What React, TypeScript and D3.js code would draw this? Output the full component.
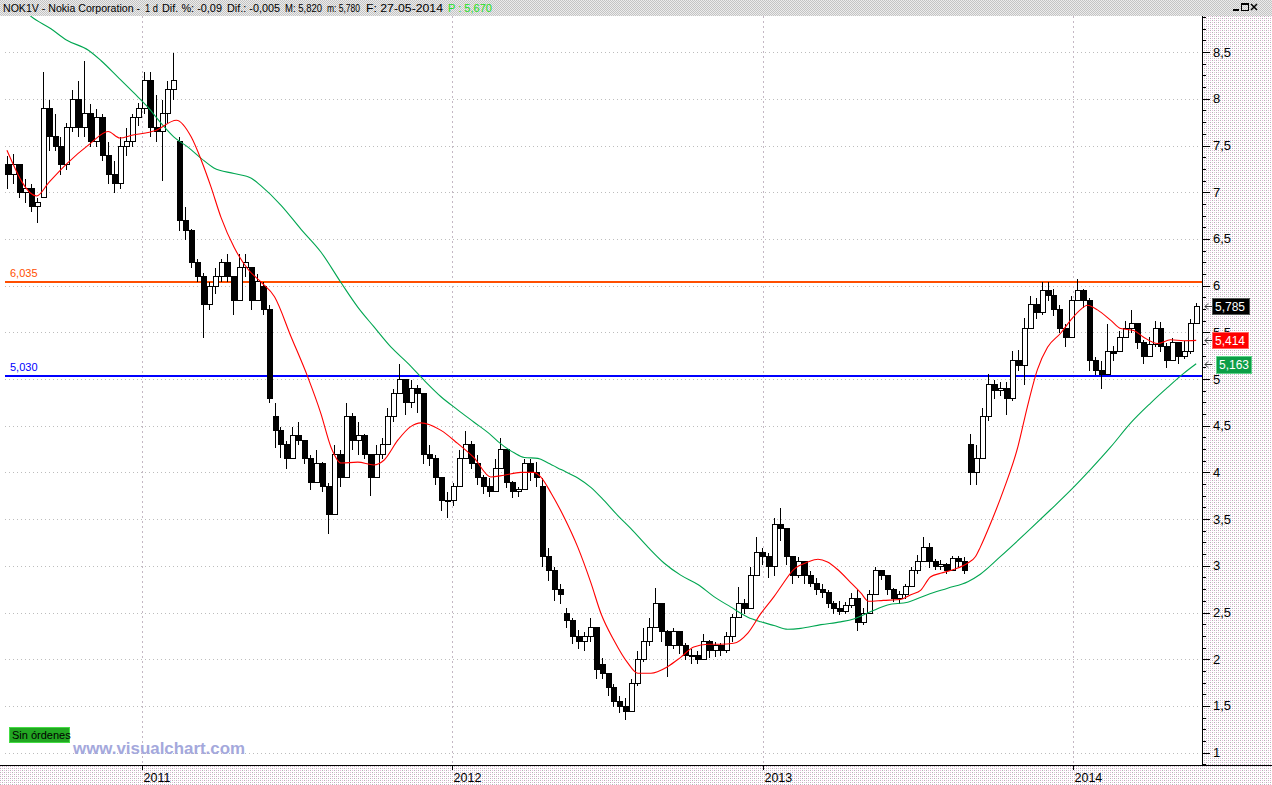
import React from "react";
import * as d3 from "d3";

// ---- data (weekly candles, first week = 2010-07-26) ----
const START = new Date(2010, 6, 26);
const DAY = 86400000;
const weekDate = (w: number) => new Date(START.getTime() + w * 7 * DAY);

const opens = [
  7.30,7.20,7.30,7.00,7.05,6.85,6.95,7.90,7.60,7.50,
  7.30,7.70,8.00,7.70,7.85,7.55,7.80,7.40,7.20,7.10,
  7.50,7.55,7.80,7.90,8.20,7.70,7.65,7.85,8.10,7.55,
  6.70,6.60,6.25,6.10,5.80,6.00,6.10,6.25,6.10,5.85,
  6.20,6.20,5.85,6.00,5.75,4.60,4.45,4.30,4.15,4.40,
  4.35,4.15,3.90,4.10,3.85,3.55,4.20,3.95,4.60,4.35,
  4.40,4.20,3.95,4.20,4.30,4.60,4.85,5.00,4.75,4.90,
  4.85,4.20,4.15,3.95,3.70,3.70,3.85,4.15,4.30,4.10,
  3.95,3.85,3.80,4.05,4.25,3.90,3.80,3.82,4.10,4.00,
  3.85,3.10,2.95,2.75,2.50,2.42,2.25,2.20,2.25,2.35,
  1.95,1.85,1.70,1.55,1.50,1.45,1.75,2.00,2.20,2.35,
  2.60,2.30,2.15,2.30,2.15,2.05,2.05,2.00,2.20,2.10,
  2.15,2.10,2.25,2.45,2.60,2.55,2.90,3.15,3.10,3.00,
  3.45,3.40,3.10,2.90,3.05,2.90,2.82,2.75,2.72,2.60,
  2.55,2.52,2.58,2.65,2.40,2.50,2.70,2.95,2.90,2.75,
  2.65,2.70,2.78,2.95,3.05,3.20,3.05,3.00,3.02,2.95,
  3.08,3.05,4.30,4.00,4.15,4.60,4.95,4.88,4.90,4.80,
  5.20,5.15,5.55,5.80,5.72,5.95,5.90,5.75,5.55,5.45,
  5.85,5.95,5.85,5.20,5.10,5.05,5.30,5.30,5.45,5.55,
  5.60,5.40,5.25,5.38,5.55,5.35,5.20,5.40,5.25,5.30,
  5.60,
];
const highs = [
  7.40,7.42,7.30,7.15,7.10,6.95,8.30,8.00,7.85,7.60,
  7.75,8.10,8.20,8.42,7.95,7.90,7.85,7.55,7.35,7.60,
  7.70,7.85,7.97,8.30,8.30,8.05,8.00,8.20,8.50,7.60,
  6.85,6.62,6.30,6.15,6.05,6.20,6.30,6.35,6.10,6.35,
  6.35,6.20,6.13,6.05,5.80,4.75,4.50,4.35,4.50,4.55,
  4.35,4.20,4.25,4.12,3.90,4.30,4.25,4.75,4.65,4.55,
  4.42,4.20,4.30,4.38,4.70,4.90,5.17,5.00,5.00,4.95,
  4.85,4.30,4.20,3.95,3.80,3.90,4.25,4.45,4.35,4.20,
  3.98,3.95,4.15,4.38,4.25,3.92,3.85,4.15,4.15,4.12,
  3.95,3.20,3.00,2.82,2.56,2.45,2.32,2.30,2.45,2.35,
  2.02,1.85,1.74,1.62,1.60,1.80,2.10,2.35,2.45,2.77,
  2.60,2.32,2.35,2.30,2.18,2.12,2.10,2.28,2.22,2.20,
  2.18,2.30,2.50,2.78,2.65,3.00,3.32,3.20,3.15,3.52,
  3.63,3.40,3.10,3.10,3.05,2.95,2.88,2.82,2.75,2.63,
  2.63,2.62,2.72,2.75,2.56,2.75,3.00,2.97,2.90,2.77,
  2.74,2.82,3.00,3.13,3.32,3.25,3.08,3.07,3.04,3.12,
  3.12,3.10,4.42,4.30,4.70,5.06,5.00,4.98,4.98,5.31,
  5.32,5.66,5.90,5.88,6.05,6.05,5.97,5.80,5.60,5.90,
  6.08,5.97,5.88,5.25,5.20,5.60,5.36,5.52,5.63,5.75,
  5.60,5.43,5.46,5.63,5.62,5.40,5.45,5.40,5.42,5.65,
  5.82,
];
const lows = [
  7.05,7.10,6.95,6.90,6.80,6.68,6.95,7.45,7.45,7.20,
  7.25,7.65,7.60,7.60,7.50,7.50,7.35,7.10,7.00,7.05,
  7.40,7.50,7.72,7.85,7.60,7.55,7.13,7.75,8.00,6.60,
  6.50,6.20,6.05,5.45,5.75,5.92,6.05,6.05,5.70,5.85,
  6.10,5.75,5.85,5.70,4.75,4.27,4.17,4.05,4.15,4.30,
  4.10,3.82,3.90,3.80,3.35,3.55,3.85,3.95,4.25,4.20,
  4.15,3.76,3.95,4.15,4.30,4.55,4.85,4.62,4.70,4.65,
  4.10,4.08,3.88,3.60,3.52,3.65,3.85,4.15,4.05,3.88,
  3.78,3.75,3.80,4.05,3.84,3.74,3.75,3.82,3.92,3.85,
  3.00,2.85,2.63,2.60,2.34,2.17,2.12,2.10,2.20,1.80,
  1.80,1.62,1.50,1.43,1.36,1.45,1.72,1.98,2.15,2.35,
  2.20,1.82,2.12,2.07,2.00,1.96,1.96,2.00,2.02,2.03,
  2.05,2.08,2.20,2.45,2.50,2.55,2.90,3.02,2.88,2.90,
  3.28,3.02,2.82,2.88,2.82,2.78,2.70,2.67,2.56,2.49,
  2.48,2.50,2.56,2.31,2.38,2.50,2.70,2.86,2.70,2.62,
  2.60,2.66,2.78,2.92,3.05,2.99,2.97,2.97,2.92,2.95,
  3.00,2.92,3.88,3.88,4.15,4.56,4.80,4.83,4.63,4.78,
  5.10,4.95,5.55,5.65,5.70,5.85,5.68,5.50,5.35,5.45,
  5.85,5.77,5.10,5.05,4.90,5.05,5.20,5.30,5.45,5.50,
  5.33,5.17,5.25,5.35,5.30,5.13,5.20,5.17,5.22,5.28,
  5.60,
];
const closes = [
  7.20,7.30,7.00,7.05,6.85,6.90,7.90,7.60,7.50,7.30,
  7.70,8.00,7.70,7.85,7.55,7.80,7.40,7.20,7.10,7.50,
  7.55,7.80,7.90,8.20,7.70,7.65,7.85,8.10,8.20,6.70,
  6.60,6.25,6.10,5.80,6.00,6.10,6.25,6.10,5.85,6.20,
  6.25,5.85,6.05,5.75,4.80,4.45,4.30,4.15,4.40,4.35,
  4.15,3.90,4.10,3.85,3.55,4.20,3.95,4.60,4.35,4.40,
  4.20,3.95,4.20,4.30,4.60,4.85,5.00,4.75,4.90,4.85,
  4.20,4.15,3.95,3.70,3.70,3.85,4.15,4.30,4.10,3.95,
  3.85,3.80,4.05,4.25,3.90,3.80,3.82,4.10,4.00,3.95,
  3.10,2.95,2.75,2.70,2.42,2.25,2.20,2.25,2.35,1.90,
  1.85,1.70,1.55,1.50,1.45,1.75,2.00,2.20,2.35,2.60,
  2.30,2.15,2.30,2.15,2.05,2.05,2.00,2.20,2.10,2.15,
  2.10,2.25,2.45,2.60,2.55,2.90,3.15,3.10,3.00,3.45,
  3.40,3.10,2.90,3.05,2.90,2.82,2.75,2.72,2.60,2.55,
  2.52,2.58,2.65,2.40,2.50,2.70,2.95,2.90,2.75,2.65,
  2.70,2.78,2.95,3.05,3.20,3.05,3.00,3.02,2.95,3.08,
  3.05,2.95,4.00,4.15,4.60,4.95,4.88,4.90,4.80,5.20,
  5.15,5.55,5.80,5.72,5.95,5.90,5.75,5.55,5.45,5.85,
  5.95,5.85,5.20,5.10,5.05,5.30,5.28,5.45,5.55,5.60,
  5.40,5.25,5.38,5.55,5.35,5.20,5.40,5.25,5.30,5.60,
  5.785,
];

// red (short) moving average, read at week positions
const redMaWeeks = [0,5,7,10,14,17,19,21,25,28.5,31,32.7,34.3,36,38.2,40.6,42.7,45,47.8,50.6,52.8,54.5,56.2,59,61.7,63.4,65.8,67.9,69.6,73,75.8,78.5,81.4,83.6,86.4,88.6,89.8,91.5,93.7,96,98.2,99.9,102.1,104.4,106.1,108.3,111.1,113.3,115.5,117.9,120,122.2,124.6,126.8,129,130.1,132.3,134.7,136.4,138,139.7,141.9,143.6,144.9,147.4,150.3,152,153.7,155.3,157,159.2,161.6,162.9,163.7,165.4,167.6,170,171.6,173.3,175,177.2,178.9,180.5,181.7,183.4,185.6,187.3,189.5,191.1,193.5,195.7,197.9,200];
const redMaValues = [7.45,6.96,7.1,7.3,7.52,7.65,7.58,7.61,7.66,7.77,7.59,7.34,7.06,6.73,6.41,6.17,6.04,5.88,5.45,5.02,4.63,4.27,4.1,4.11,4.08,4.13,4.35,4.49,4.53,4.45,4.31,4.16,3.95,3.97,4.0,4.0,3.95,3.78,3.52,3.2,2.82,2.49,2.2,1.96,1.85,1.85,1.92,2.02,2.13,2.16,2.16,2.17,2.28,2.49,2.67,2.77,2.96,3.04,3.07,3.04,2.96,2.82,2.71,2.62,2.63,2.64,2.69,2.74,2.88,2.92,2.96,3.03,3.1,3.2,3.45,3.81,4.27,4.7,5.1,5.34,5.49,5.63,5.74,5.79,5.74,5.63,5.54,5.52,5.45,5.38,5.42,5.41,5.414];

// green (long) moving average
const greenMaWeeks = [0,4.1,7.4,10,13.7,15.8,18.7,21.4,23.7,25.9,28.1,30.5,32.7,34.8,38.2,41.1,42.7,46.1,49.5,52.8,56.2,59,61.7,64.6,67.4,70.1,73,75.8,78.5,81.4,82.6,85.3,87,89.3,91,93.2,96,98.2,100.4,102.7,104.9,107.8,110.5,113.3,116.2,118.9,121.7,124.6,126.8,129,131.3,133.5,136.9,140.2,142.4,145.3,148.1,151.5,154.8,158.2,161.6,163.7,167.1,172.2,175.5,178.9,182.2,185.6,189,192.3,195.2,197.9,200];
const greenMaValues = [9.15,8.88,8.75,8.63,8.52,8.41,8.23,8.06,7.91,7.74,7.59,7.48,7.36,7.26,7.2,7.15,7.07,6.86,6.6,6.36,6.03,5.77,5.56,5.34,5.17,4.99,4.81,4.67,4.54,4.4,4.33,4.21,4.16,4.15,4.1,4.03,3.94,3.84,3.7,3.54,3.4,3.2,3.03,2.9,2.8,2.67,2.56,2.45,2.4,2.36,2.32,2.33,2.37,2.4,2.43,2.51,2.58,2.61,2.69,2.76,2.83,2.91,3.1,3.4,3.6,3.81,4.03,4.27,4.53,4.74,4.91,5.06,5.163];

const levelValues = [6.035, 5.03];
const levelColors = ["#ff4e00", "#0000ff"];
const tagValues = [5.785, 5.414, 5.163];
const tagFills = ["#000000", "#ff0000", "#0c9e46"];
const yTickValues = d3.range(1, 8.51, 0.5);

const FONT = "'Liberation Sans', Arial, Helvetica, sans-serif";
const fmt = (v: number) => String(v).replace(".", ",");
const fmt3 = (v: number) => v.toFixed(3).replace(".", ",");

export default function App() {
  const W = 1272, H = 785;
  const AX = 1202, TOP = 16, BOT = 765;
  const x = d3.scaleTime().domain([new Date(2011, 0, 1), new Date(2014, 0, 1)]).range([142, 1073]);
  const y = d3.scaleLinear().domain([5, 6]).range([379, 285.6]);
  const ry = (v: number) => Math.round(y(v)) + 0.5;

  const years = d3.timeYear.range(new Date(2011, 0, 1), new Date(2014, 0, 2));
  const minorTicks = d3.range(7, 72).map((k) => k * 0.125);

  const lineGen = d3
    .line<[number, number]>()
    .x((d) => x(weekDate(d[0])))
    .y((d) => y(d[1]))
    .curve(d3.curveMonotoneX);
  const redPath = lineGen(redMaWeeks.map((w, i) => [w, redMaValues[i]]) as [number, number][]) || "";
  const greenPath = lineGen(greenMaWeeks.map((w, i) => [w, greenMaValues[i]]) as [number, number][]) || "";

  const candles = opens.map((o, i) => {
    const c = closes[i];
    const cx = Math.round(x(weekDate(i))) + 0.5;
    const top = ry(Math.max(o, c));
    const bot = ry(Math.min(o, c));
    return { i, cx, top, bot, hi: ry(highs[i]), lo: ry(lows[i]), up: c >= o };
  });

  const titleParts: [string, number, number, string][] = [
    ["NOK1V - Nokia Corporation -", 3, 137, "#000"],
    ["1 d", 145, 13, "#000"],
    ["Dif. %: -0,09", 162, 60, "#000"],
    ["Dif.: -0,005", 227, 53, "#000"],
    ["M: 5,820", 285, 37, "#000"],
    ["m: 5,780", 327, 33, "#000"],
    ["F: 27-05-2014", 366, 77, "#000"],
    ["P : 5,670", 448, 44, "#22e022"],
  ];
  const tagX = [1212, 1212, 1216];
  const tagW = [37, 36, 35];

  return (
    <div style={{ position: "absolute", left: 0, top: 0 }}>
      <svg width={W} height={H} style={{ display: "block" }} fontFamily={FONT}>
        <defs>
          <pattern id="pTitle" width="2" height="2" patternUnits="userSpaceOnUse">
            <rect width="2" height="2" fill="#ececec" />
            <rect x="0" y="0" width="1" height="1" fill="#c4c4c4" />
            <rect x="1" y="1" width="1" height="1" fill="#c4c4c4" />
          </pattern>
          <pattern id="pPanel" width="4" height="4" patternUnits="userSpaceOnUse">
            <rect width="4" height="4" fill="#ffffff" />
            <rect x="0" y="0" width="1" height="1" fill="#b4b4b4" />
            <rect x="2" y="2" width="1" height="1" fill="#b4b4b4" />
            <rect x="2" y="0" width="1" height="1" fill="#e6bcdc" />
            <rect x="0" y="2" width="1" height="1" fill="#e6bcdc" />
          </pattern>
          <clipPath id="plotClip">
            <rect x="0" y={TOP} width={AX} height={BOT - TOP} />
          </clipPath>
        </defs>

        <rect width={W} height={H} fill="#ffffff" />
        <rect x="0" y="0" width={W} height={TOP} fill="url(#pTitle)" />
        <rect x={AX + 1} y={TOP} width={W - AX - 1} height={BOT - TOP} fill="url(#pPanel)" />
        <rect x="0" y={BOT + 1} width={W} height={H - BOT - 1} fill="url(#pPanel)" />

        {/* grid */}
        {yTickValues.map((v) => (
          <line key={"g" + v} x1={5} x2={1198} y1={ry(v)} y2={ry(v)} stroke="#bdbdbd" strokeDasharray="1,3" shapeRendering="crispEdges" />
        ))}
        {years.map((d) => (
          <line key={"v" + d.getFullYear()} x1={Math.round(x(d)) + 0.5} x2={Math.round(x(d)) + 0.5} y1={TOP} y2={BOT} stroke="#c4b8c4" strokeDasharray="2,3" shapeRendering="crispEdges" />
        ))}

        {/* level lines */}
        {levelValues.map((v, i) => (
          <g key={"l" + v}>
            <rect x={5} y={Math.round(y(v)) - 1} width={AX - 5} height={2} fill={levelColors[i]} />
            <text x={10} y={Math.round(y(v)) - 5} fontSize={11} fill={levelColors[i]}>{fmt3(v)}</text>
          </g>
        ))}

        <g clipPath="url(#plotClip)">
          {/* candles */}
          {candles.map((k) => (
            <g key={"c" + k.i}>
              <line x1={k.cx} x2={k.cx} y1={k.hi} y2={k.lo} stroke="#000" strokeWidth={1} shapeRendering="crispEdges" />
              <rect
                x={k.cx - 2}
                y={k.top}
                width={5}
                height={Math.max(1, k.bot - k.top)}
                fill={k.up ? "#ffffff" : "#000000"}
                stroke="#000"
                strokeWidth={1}
                shapeRendering="crispEdges"
              />
            </g>
          ))}
          <path d={greenPath} fill="none" stroke="#00a651" strokeWidth={1.1} />
          <path d={redPath} fill="none" stroke="#ff0000" strokeWidth={1.1} />
        </g>

        {/* right axis */}
        <line x1={AX + 0.5} x2={AX + 0.5} y1={TOP} y2={BOT} stroke="#000" shapeRendering="crispEdges" />
        {minorTicks.map((v) => (
          <line key={"m" + v} x1={AX} x2={AX + 4} y1={ry(v)} y2={ry(v)} stroke="#000" shapeRendering="crispEdges" />
        ))}
        {yTickValues.map((v) => (
          <g key={"t" + v}>
            <line x1={AX} x2={AX + 8} y1={ry(v)} y2={ry(v)} stroke="#000" shapeRendering="crispEdges" />
            <text x={1213} y={y(v) + 4.5} fontSize={13} fill="#000">{fmt(v)}</text>
          </g>
        ))}

        {/* bottom axis */}
        <line x1={0} x2={W} y1={BOT + 0.5} y2={BOT + 0.5} stroke="#000" shapeRendering="crispEdges" />
        {years.map((d) => (
          <g key={"y" + d.getFullYear()}>
            <line x1={Math.round(x(d)) + 0.5} x2={Math.round(x(d)) + 0.5} y1={BOT} y2={BOT + 5} stroke="#000" shapeRendering="crispEdges" />
            <text x={x(d) + 1.5} y={782} fontSize={12.5} fill="#000">{d3.timeFormat("%Y")(d)}</text>
          </g>
        ))}

        {/* price tags */}
        {tagValues.map((v, i) => {
          const cy = y(v);
          return (
            <g key={"tag" + v}>
              <path d={`M${AX + 3},${Math.round(cy) + 0.5} h7 M${AX + 3},${Math.round(cy) + 0.5} l3,-3 M${AX + 3},${Math.round(cy) + 0.5} l3,3`} stroke="#333" fill="none" />
              <rect x={tagX[i]} y={Math.round(cy) - 8} width={tagW[i]} height={i === 2 ? 17 : 16} fill={tagFills[i]} stroke={i === 2 ? "#5fd38a" : i === 0 ? "#555" : "#ff6060"} strokeWidth={1} shapeRendering="crispEdges" />
              <text x={tagX[i] + 3} y={Math.round(cy) + 4.5} fontSize={12} fill="#ffffff">{fmt3(v)}</text>
            </g>
          );
        })}

        {/* title */}
        {titleParts.map(([t, tx, tw, col]) => (
          <text key={t} x={tx} y={12} fontSize={10.5} fill={col} textLength={tw} lengthAdjust="spacingAndGlyphs">{t}</text>
        ))}
        {/* window buttons */}
        <rect x={1233} y={9} width={6} height={2} fill="#000" />
        <rect x={1241.5} y={3.5} width={7} height={7} fill="none" stroke="#000" />
        <rect x={1241} y={3} width={8} height={2} fill="#000" />
        <path d="M1251,4 L1257,10 M1257,4 L1251,10" stroke="#000" strokeWidth={1.5} />

        {/* Sin órdenes */}
        <rect x={9.5} y={727.5} width={60} height={15} fill="#22a622" stroke="#44dd44" />
        <text x={12} y={739} fontSize={11} fill="#000">Sin órdenes</text>
        <text x={73} y={754} fontSize={16} fontWeight="bold" fill="#a4a8dc" textLength={172} lengthAdjust="spacingAndGlyphs">www.visualchart.com</text>
      </svg>
    </div>
  );
}
